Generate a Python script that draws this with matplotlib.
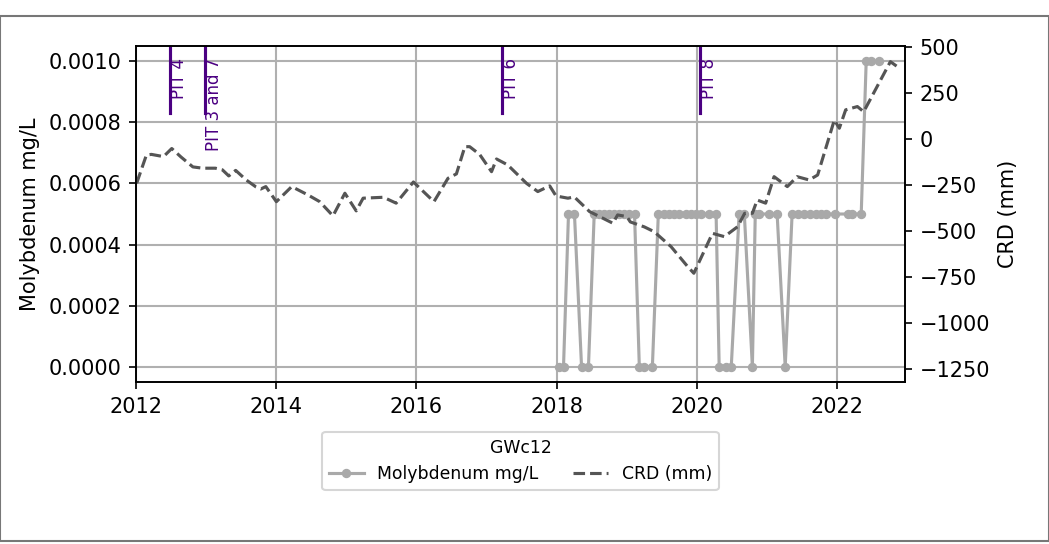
import matplotlib
matplotlib.use("Agg")
import matplotlib.pyplot as plt
import matplotlib.dates as mdates
import matplotlib.transforms as mtransforms
from matplotlib.patches import Rectangle
from matplotlib.ticker import FormatStrFormatter, MultipleLocator
import pandas as pd

# molybdenum samples (mg/L)
mo_dates = [
    "2018-01-10", "2018-02-05", "2018-03-03", "2018-04-03", "2018-05-10", "2018-06-15",
    "2018-07-15", "2018-08-10", "2018-09-05", "2018-10-02", "2018-10-28", "2018-11-23",
    "2018-12-19", "2019-01-14", "2019-02-10", "2019-03-07", "2019-04-02", "2019-05-14",
    "2019-06-14", "2019-07-15", "2019-08-10", "2019-09-05", "2019-10-01", "2019-11-06",
    "2019-12-02", "2019-12-28", "2020-01-23", "2020-03-05", "2020-04-10", "2020-04-26",
    "2020-06-02", "2020-06-28", "2020-08-08", "2020-09-04", "2020-10-16", "2020-10-31",
    "2020-11-21", "2021-01-12", "2021-02-22", "2021-04-05", "2021-05-11", "2021-06-12",
    "2021-07-13", "2021-08-13", "2021-09-13", "2021-10-09", "2021-11-04", "2021-12-21",
    "2022-02-27", "2022-03-20", "2022-05-06", "2022-06-01", "2022-06-27", "2022-08-07",
]
mo_vals = [
    0.0, 0.0, 0.0005, 0.0005, 0.0, 0.0,
    0.0005, 0.0005, 0.0005, 0.0005, 0.0005, 0.0005,
    0.0005, 0.0005, 0.0005, 0.0, 0.0, 0.0,
    0.0005, 0.0005, 0.0005, 0.0005, 0.0005, 0.0005,
    0.0005, 0.0005, 0.0005, 0.0005, 0.0005, 0.0,
    0.0, 0.0, 0.0005, 0.0005, 0.0, 0.0005,
    0.0005, 0.0005, 0.0005, 0.0, 0.0005, 0.0005,
    0.0005, 0.0005, 0.0005, 0.0005, 0.0005, 0.0005,
    0.0005, 0.0005, 0.0005, 0.001, 0.001, 0.001,
]

# cumulative rainfall departure (mm)
crd_dates = [
    "2012-01-04", "2012-02-24", "2012-03-21", "2012-05-23", "2012-07-05", "2012-08-22",
    "2012-10-23", "2012-12-13", "2013-02-17", "2013-03-26", "2013-04-28", "2013-06-03",
    "2013-07-28", "2013-09-17", "2013-10-12", "2013-11-07", "2014-01-01", "2014-03-22",
    "2014-06-14", "2014-08-15", "2014-10-23", "2014-12-24", "2015-02-21", "2015-03-29",
    "2015-07-13", "2015-09-17", "2015-12-16", "2016-04-01", "2016-06-13", "2016-07-27",
    "2016-09-09", "2016-10-04", "2016-11-25", "2017-01-26", "2017-02-21", "2017-04-20",
    "2017-07-28", "2017-09-24", "2017-11-25", "2017-12-28", "2018-02-28", "2018-04-02",
    "2018-06-21", "2018-10-20", "2018-11-14", "2019-01-01", "2019-01-19", "2019-04-02",
    "2019-05-23", "2019-08-19", "2019-11-14", "2019-12-16", "2020-03-22", "2020-05-23",
    "2020-07-31", "2020-09-06", "2020-10-16", "2020-11-10", "2020-12-24", "2021-02-06",
    "2021-04-16", "2021-06-06", "2021-08-08", "2021-09-21", "2021-12-17", "2022-01-12",
    "2022-02-14", "2022-04-16", "2022-05-19", "2022-10-05", "2022-11-10",
]
crd_vals = [
    -241, -87, -84, -96, -52, -98,
    -152, -159, -159, -168, -201, -171,
    -223, -261, -272, -259, -341, -259,
    -304, -341, -418, -295, -391, -322,
    -317, -349, -234, -341, -214, -190,
    -42, -42, -84, -178, -109, -141,
    -242, -286, -255, -310, -322, -315,
    -395, -458, -413, -422, -451, -478,
    -504, -585, -694, -730, -513, -531,
    -477, -404, -404, -332, -349, -205,
    -259, -205, -223, -196, 103, 58,
    158, 176, 148, 420, 393,
]

pit_labels = ["PIT 4", "PIT 3 and 7", "PIT 6", "PIT 8"]
pit_dates = ["2012-06-28", "2012-12-24", "2017-03-21", "2020-01-19"]

mo_x = pd.to_datetime(mo_dates)
crd_x = pd.to_datetime(crd_dates)
pit_x = pd.to_datetime(pit_dates)

fig = plt.figure(figsize=(1049 / 150, 544 / 150), dpi=150)
ax = fig.add_axes([0.1297, 0.2978, 0.8627 - 0.1297, 0.9154 - 0.2978])
ax2 = ax.twinx()

l1, = ax.plot(mo_x, mo_vals, color="darkgray", marker="o", markersize=3.5,
              linewidth=1.5, label="Molybdenum mg/L")
l2, = ax2.plot(crd_x, crd_vals, color="#555555", linestyle="--",
               linewidth=1.5, label="CRD (mm)")

# pit markers
trans = mtransforms.blended_transform_factory(ax.transData, ax.transAxes)
for lab, d in zip(pit_labels, pit_x):
    ax.axvline(d, ymin=0.8, ymax=1.0, color="indigo", linewidth=1.5)
    ax.text(d, 0.965, " " + lab if False else lab, rotation=90, va="top", ha="left",
            fontsize=8, color="indigo", transform=trans)

ax.set_xlim(pd.Timestamp("2012-01-01"), pd.Timestamp("2022-12-20"))
ax.set_ylim(-0.00005, 0.00105)
ax2.set_ylim(-1321, 505)

ax.xaxis.set_major_locator(mdates.YearLocator(2))
ax.xaxis.set_major_formatter(mdates.DateFormatter("%Y"))
ax.yaxis.set_major_locator(MultipleLocator(0.0002))
ax.yaxis.set_major_formatter(FormatStrFormatter("%.4f"))
ax2.yaxis.set_major_locator(MultipleLocator(250))

ax.grid(True, color="#b0b0b0", linewidth=1.0)
ax.set_ylabel("Molybdenum mg/L", fontsize=10)
ax2.set_ylabel("CRD (mm)", fontsize=10)
ax.tick_params(labelsize=10)
ax2.tick_params(labelsize=10)

ax.legend([l1, l2], ["Molybdenum mg/L", "CRD (mm)"], title="GWc12", ncol=2,
          loc="upper center", bbox_to_anchor=(0.5, -0.122), fontsize=8.3,
          title_fontsize=8.3, frameon=True)

# outer frame of the image
fig.patches.append(Rectangle((0.0, 0.0055), 1.0, 0.9651, transform=fig.transFigure,
                             fill=False, edgecolor="#777777", linewidth=1.0))

fig.savefig("out.png", dpi=150)
